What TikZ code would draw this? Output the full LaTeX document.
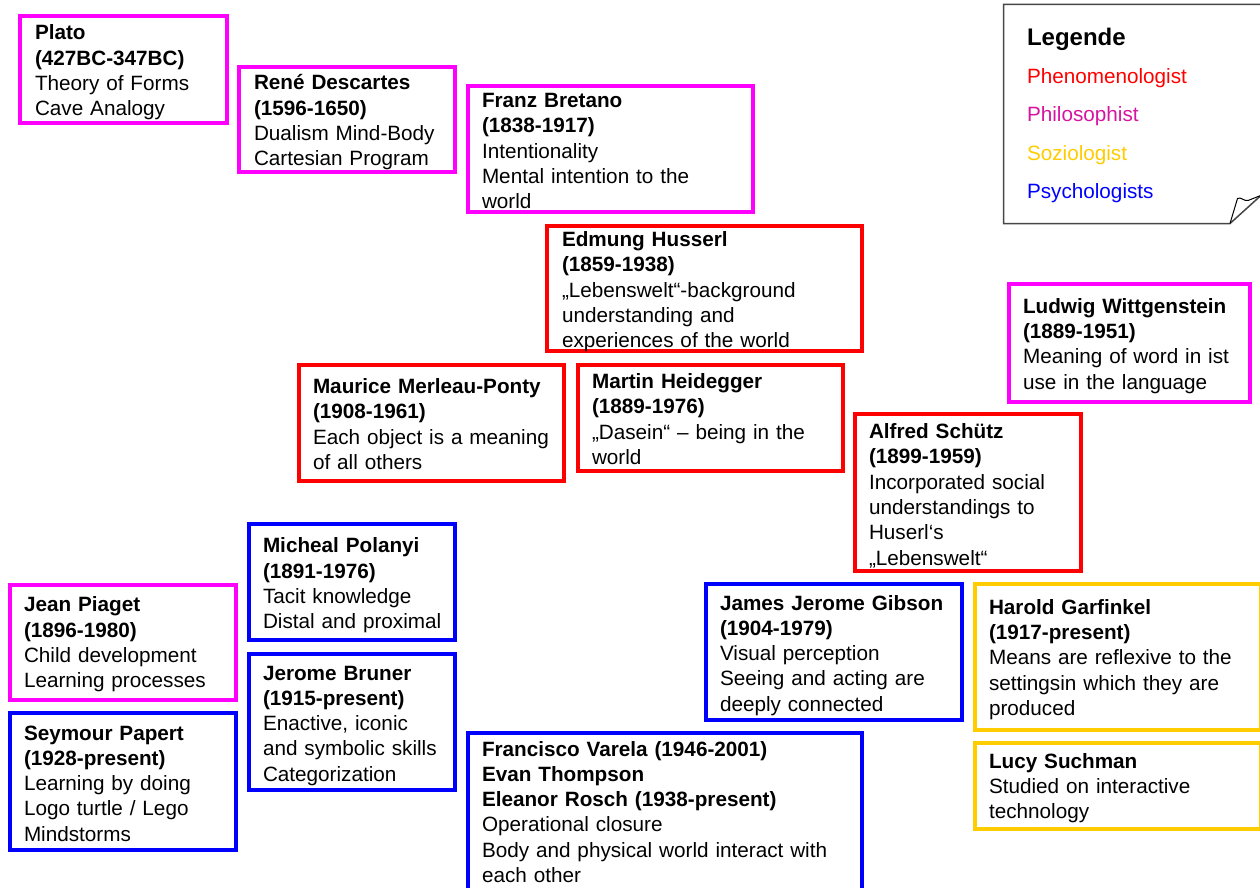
\documentclass[tikz,border=0pt]{standalone}
\usepackage{fontspec}
\setmainfont{Liberation Sans}
\definecolor{cmag}{RGB}{255,0,255}
\definecolor{cred}{RGB}{255,0,0}
\definecolor{cblue}{RGB}{0,0,255}
\definecolor{cgold}{RGB}{255,204,0}
\definecolor{cphil}{RGB}{214,20,160}
\definecolor{clegline}{RGB}{70,70,70}
\newcommand\pplbox[6]{\node[pbox,draw=#2,minimum width={(#5-#3)*1pt},minimum height={(#6-#4)*1pt}] (#1) at (#3,#4) {};}
\begin{document}
\begin{tikzpicture}[x=1pt,y=-1pt,
  pbox/.style={rectangle,line width=4pt,anchor=north west,outer sep=0pt,inner sep=0pt},
  ptext/.style={anchor=base west,inner sep=0pt,outer sep=0pt,text width=430pt,align=left,font=\fontsize{20.7}{25.3}\selectfont},
  legtext/.style={anchor=base west,inner sep=0pt,outer sep=0pt,font=\fontsize{20.7}{25.3}\selectfont},
  legline/.style={draw=clegline,line width=1.5pt,line join=miter}]
\useasboundingbox (0,0) rectangle (1260,888);

% boxes
\pplbox{plato}{cmag}{20}{16}{227}{123}
\pplbox{descartes}{cmag}{239}{67}{455}{172}
\pplbox{bretano}{cmag}{468}{86}{753}{212}
\pplbox{husserl}{cred}{547}{226}{862}{351}
\pplbox{witt}{cmag}{1009}{284}{1250}{402}
\pplbox{merleau}{cred}{299}{365}{564}{481}
\pplbox{heidegger}{cred}{578}{365}{843}{471}
\pplbox{schutz}{cred}{855}{414}{1081}{571}
\pplbox{polanyi}{cblue}{249}{524}{455}{640}
\pplbox{piaget}{cmag}{10}{585}{236}{700}
\pplbox{bruner}{cblue}{249}{654}{455}{790}
\pplbox{papert}{cblue}{10}{713}{236}{850}
\pplbox{gibson}{cblue}{706}{584}{962}{720}
\pplbox{garfinkel}{cgold}{975}{584}{1261}{730}
\pplbox{suchman}{cgold}{975}{743}{1261}{829}
\pplbox{varela}{cblue}{468}{733}{862}{895}

% texts
\node[ptext] (platoT) at (35,40) {\textbf{Plato}\\\textbf{(427BC-347BC)}\\Theory of Forms\\Cave Analogy};
\node[ptext] (descartesT) at (254,90) {\textbf{René Descartes}\\\textbf{(1596-1650)}\\Dualism Mind-Body\\Cartesian Program};
\node[ptext] (bretanoT) at (482,107.5) {\textbf{Franz Bretano}\\\textbf{(1838-1917)}\\Intentionality\\Mental intention to the\\world};
\node[ptext] (husserlT) at (562,246.5) {\textbf{Edmung Husserl}\\\textbf{(1859-1938)}\\„Lebenswelt“-background\\understanding and\\experiences of the world};
\node[ptext] (wittT) at (1023,313.3) {\textbf{Ludwig Wittgenstein}\\\textbf{(1889-1951)}\\Meaning of word in ist\\use in the language};
\node[ptext] (merleauT) at (313,393.5) {\textbf{Maurice Merleau-Ponty}\\\textbf{(1908-1961)}\\Each object is a meaning\\of all others};
\node[ptext] (heideggerT) at (592,388.5) {\textbf{Martin Heidegger}\\\textbf{(1889-1976)}\\„Dasein“ – being in the\\world};
\node[ptext] (schutzT) at (869,438.5) {\textbf{Alfred Schütz}\\\textbf{(1899-1959)}\\Incorporated social\\understandings to\\Huserl‘s\\„Lebenswelt“};
\node[ptext] (polanyiT) at (263,552.7) {\textbf{Micheal Polanyi}\\\textbf{(1891-1976)}\\Tacit knowledge\\Distal and proximal};
\node[ptext] (piagetT) at (24,611.7) {\textbf{Jean Piaget}\\\textbf{(1896-1980)}\\Child development\\Learning processes};
\node[ptext] (brunerT) at (263,680) {\textbf{Jerome Bruner}\\\textbf{(1915-present)}\\Enactive, iconic\\and symbolic skills\\Categorization};
\node[ptext] (papertT) at (24,740) {\textbf{Seymour Papert}\\\textbf{(1928-present)}\\Learning by doing\\Logo turtle / Lego\\Mindstorms};
\node[ptext] (gibsonT) at (720,610) {\textbf{James Jerome Gibson}\\\textbf{(1904-1979)}\\Visual perception\\Seeing and acting are\\deeply connected};
\node[ptext] (garfinkelT) at (989,614.3) {\textbf{Harold Garfinkel}\\\textbf{(1917-present)}\\Means are reflexive to the\\settingsin which they are\\produced};
\node[ptext] (suchmanT) at (989,768.3) {\textbf{Lucy Suchman}\\Studied on interactive\\technology};
\node[ptext] (varelaT) at (482,756) {\textbf{Francisco Varela (1946-2001)}\\\textbf{Evan Thompson}\\\textbf{Eleanor Rosch (1938-present)}\\Operational closure\\Body and physical world interact with\\each other};

% legend (note with folded corner)
\coordinate (fold) at (1230,223.5);
\draw[legline] (1262,4.5) -- (1003.5,4.5) -- (1003.5,223.5) -- (fold) -- (1262,194.5);
\draw[draw=black,line width=1pt,line join=round] (fold) -- (1237.5,198.5) .. controls (1241,196.5) and (1244,201.5) .. (1248,200.5) -- (1262,195);
\node[legtext,font=\fontsize{24}{28}\selectfont\bfseries] (legT) at (1027,45.3) {Legende};
\node[legtext,text=cred] (leg1) at (1027,83.5) {Phenomenologist};
\node[legtext,text=cphil] (leg2) at (1027,121.8) {Philosophist};
\node[legtext,text=cgold] (leg3) at (1027,160) {Soziologist};
\node[legtext,text=cblue] (leg4) at (1027,198.3) {Psychologists};
\end{tikzpicture}
\end{document}
